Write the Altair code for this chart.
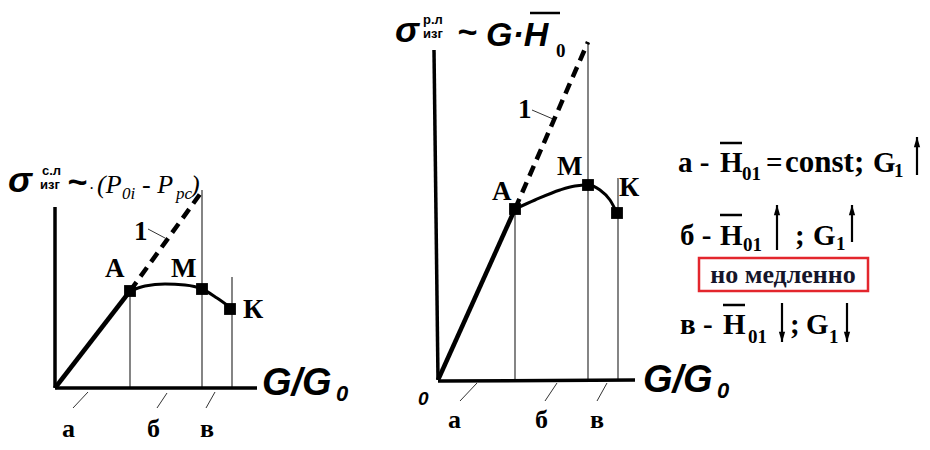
import altair as alt
import pandas as pd

# ---------------- geometry of the two schematic panels (image-like units) -------------
# axes (thick)
axis_x1 = [55, 55, 434, 438]
axis_y1 = [207, 388, 50, 381]
axis_x2 = [55, 257, 438, 635]
axis_y2 = [388, 388, 380, 380]

# solid linear part O -> A
solid_x1 = [55, 438]
solid_y1 = [388, 380]
solid_x2 = [130, 515]
solid_y2 = [291, 209]

# dashed continuation "1"
dash_x1 = [130, 515]
dash_y1 = [291, 209]
dash_x2 = [203, 588]
dash_y2 = [190, 42]

# thin verticals through A, M, K
vert_x = [130, 202, 232, 515, 588, 618]
vert_top = [291, 190, 277, 209, 42, 178]
vert_bot = [388, 388, 388, 380, 380, 380]

# thin pointer strokes
ptr_x1 = [148, 88, 167, 215, 532, 477, 557, 607]
ptr_y1 = [229, 392, 393, 392, 110, 383, 383, 383]
ptr_x2 = [165, 73, 157, 206, 553, 460, 545, 597]
ptr_y2 = [238, 408, 408, 408, 119, 401, 401, 401]

# overlines above H
ovl_x1 = [530, 720, 720, 723]
ovl_x2 = [560, 742, 742, 745]
ovl_y = [13, 143, 215, 305]

# curves A -> M -> K
curve_panel = ["L"] * 7 + ["R"] * 8
curve_x = [130, 145, 165, 185, 202, 217, 231, 515, 535, 560, 575, 588, 600, 610, 617]
curve_y = [291, 286, 284, 285, 289, 298, 308, 209, 200, 190, 186, 185, 190, 200, 213]

# marker squares A, M, K
sq_x = [130, 202, 230, 515, 588, 617]
sq_y = [291, 289, 309, 209, 185, 213]

# arrows in the legend text
arr_x = [917, 777, 852, 782, 847]
arr_tail = [175, 250, 242, 303, 303]
arr_head = [137, 205, 205, 342, 342]
arr_dir = ["up", "up", "up", "down", "down"]

# red box
box_x1, box_x2, box_y1, box_y2 = [699], [868], [258], [291]

# ---------------- texts ----------------
lab_t = ["А", "М", "К", "1", "А", "М", "К", "1", "а", "б", "в", "а", "б", "в"]
lab_x = [105, 171, 243, 134, 492, 557, 619, 518, 62, 147, 200, 448, 535, 590]
lab_y = [277, 277, 318, 240, 200, 175, 196, 118, 437, 437, 437, 428, 428, 428]
lab_s = [27, 27, 28, 27, 27, 27, 28, 27, 26, 26, 26, 26, 26, 26]

leg_t = ["а -", "H", "=", "const;", "G", "б -", "H", ";", "G", "в -", "H", ";", "G",
         "01", "1", "01", "1", "01", "1"]
leg_x = [678, 720, 766, 785, 873, 680, 720, 795, 813, 680, 723, 790, 806,
         742, 894, 743, 836, 748, 829]
leg_y = [172, 172, 172, 172, 172, 245, 245, 245, 245, 334, 334, 334, 334,
         180, 177, 251, 250, 343, 343]
leg_s = [29, 29, 29, 31, 29, 29, 29, 29, 29, 29, 29, 29, 29,
         19, 19, 19, 19, 19, 19]

note_t = ["но медленно"]
note_x = [783]
note_y = [283]
note_s = [26]

big_t = ["σ", "~", "G/G", "σ", "~", "G·H", "G/G", "0"]
big_x = [8, 67, 262, 395, 457, 486, 643, 418]
big_y = [192, 193, 395, 42, 43, 46, 392, 405]
big_s = [36, 34, 38, 36, 34, 34, 38, 19]

sub_t = ["0", "0"]
sub_x = [336, 717]
sub_y = [401, 398]
sub_s = [22, 22]

sup_t = ["с.л", "изг", "р.л", "изг"]
sup_x = [42, 40, 423, 423]
sup_y = [175, 189, 24, 38]
sup_s = [13, 13, 13, 13]

form_t = [".", "(P", "0i", "- P", "pc", ")", "0"]
form_x = [90, 97, 122, 142, 176, 191, 556]
form_y = [189, 193, 199, 193, 199, 193, 57]
form_s = [16, 26, 17, 26, 17, 26, 19]
form_style = ["italic"] * 6 + ["normal"]

# ---------------- scales ----------------
xs = alt.Scale(domain=[8, 922], nice=False, zero=False)
ys = alt.Scale(domain=[8, 442], nice=False, zero=False, reverse=True)


def X(f="x"):
    return alt.X(f + ":Q", scale=xs, axis=None)


def Y(f="y"):
    return alt.Y(f + ":Q", scale=ys, axis=None)


def segs(x1, y1, x2, y2):
    return pd.DataFrame({"x": x1, "y": y1, "x2": x2, "y2": y2})


def rule_layer(df, width, color="black", dash=None):
    kw = dict(strokeWidth=width, color=color, strokeCap="butt")
    if dash:
        kw["strokeDash"] = dash
    return alt.Chart(df).mark_rule(**kw).encode(
        x=X(), y=Y(), x2=alt.X2("x2:Q"), y2=alt.Y2("y2:Q"))


def text_layer(t, x, y, s, font, style="normal", weight="bold", color="black", align="left"):
    df = pd.DataFrame({"t": t, "x": x, "y": y, "s": s})
    return alt.Chart(df).mark_text(font=font, fontStyle=style, fontWeight=weight,
                                   align=align, baseline="alphabetic", color=color).encode(
        x=X(), y=Y(), text="t:N", size=alt.Size("s:Q", scale=None))


layers = []
layers.append(rule_layer(segs(vert_x, vert_top, vert_x, vert_bot), 1.2, "#333333"))
layers.append(rule_layer(segs(ptr_x1, ptr_y1, ptr_x2, ptr_y2), 1.0, "#333333"))
layers.append(rule_layer(segs(axis_x1, axis_y1, axis_x2, axis_y2), 3.5))
layers.append(rule_layer(segs(solid_x1, solid_y1, solid_x2, solid_y2), 4.5))
layers.append(rule_layer(segs(dash_x1, dash_y1, dash_x2, dash_y2), 4.5, dash=[11, 7]))
layers.append(rule_layer(segs(ovl_x1, ovl_y, ovl_x2, ovl_y), 2.5))
layers.append(rule_layer(segs(arr_x, arr_tail, arr_x, arr_head), 2.2))

curve_df = pd.DataFrame({"p": curve_panel, "x": curve_x, "y": curve_y})
layers.append(alt.Chart(curve_df).mark_line(color="black", strokeWidth=3, interpolate="monotone").encode(
    x=X(), y=Y(), detail="p:N", order="x:Q"))

sq_df = pd.DataFrame({"x": sq_x, "y": sq_y})
layers.append(alt.Chart(sq_df).mark_point(shape="square", filled=True, opacity=1, color="black", size=140).encode(
    x=X(), y=Y()))

head_y = [h + 5 if d == "up" else h - 5 for h, d in zip(arr_head, arr_dir)]
head_df = pd.DataFrame({"x": arr_x, "y": head_y,
                        "sh": ["M-0.6,1L0,-1L0.6,1Z" if d == "up" else "M-0.6,-1L0,1L0.6,-1Z" for d in arr_dir]})
layers.append(alt.Chart(head_df).mark_point(filled=True, opacity=1, color="black", size=110).encode(
    x=X(), y=Y(), shape=alt.Shape("sh:N", scale=None)))

box_df = pd.DataFrame({"x": box_x1, "x2": box_x2, "y": box_y1, "y2": box_y2})
layers.append(alt.Chart(box_df).mark_rect(fill="white", stroke="#e3262d", strokeWidth=2.5).encode(
    x=X(), x2=alt.X2("x2:Q"), y=Y(), y2=alt.Y2("y2:Q")))

layers.append(text_layer(lab_t, lab_x, lab_y, lab_s, "Liberation Serif"))
layers.append(text_layer(leg_t, leg_x, leg_y, leg_s, "Liberation Serif"))
layers.append(text_layer(note_t, note_x, note_y, note_s, "Liberation Serif", color="#15152a", align="center"))
layers.append(text_layer(big_t, big_x, big_y, big_s, "Liberation Sans", style="italic"))
layers.append(text_layer(sub_t, sub_x, sub_y, sub_s, "Liberation Sans", style="italic"))
layers.append(text_layer(sup_t, sup_x, sup_y, sup_s, "Liberation Sans"))
it_idx = [i for i, s in enumerate(form_style) if s == "italic"]
up_idx = [i for i, s in enumerate(form_style) if s != "italic"]
layers.append(text_layer([form_t[i] for i in it_idx], [form_x[i] for i in it_idx],
                         [form_y[i] for i in it_idx], [form_s[i] for i in it_idx],
                         "Liberation Serif", style="italic", weight="normal"))
layers.append(text_layer([form_t[i] for i in up_idx], [form_x[i] for i in up_idx],
                         [form_y[i] for i in up_idx], [form_s[i] for i in up_idx],
                         "Liberation Serif"))

chart = alt.layer(*layers).properties(width=914, height=434, padding=0, background="white").configure_view(stroke=None)

chart.save("out.html", embed_options={"renderer": "svg", "actions": False})
